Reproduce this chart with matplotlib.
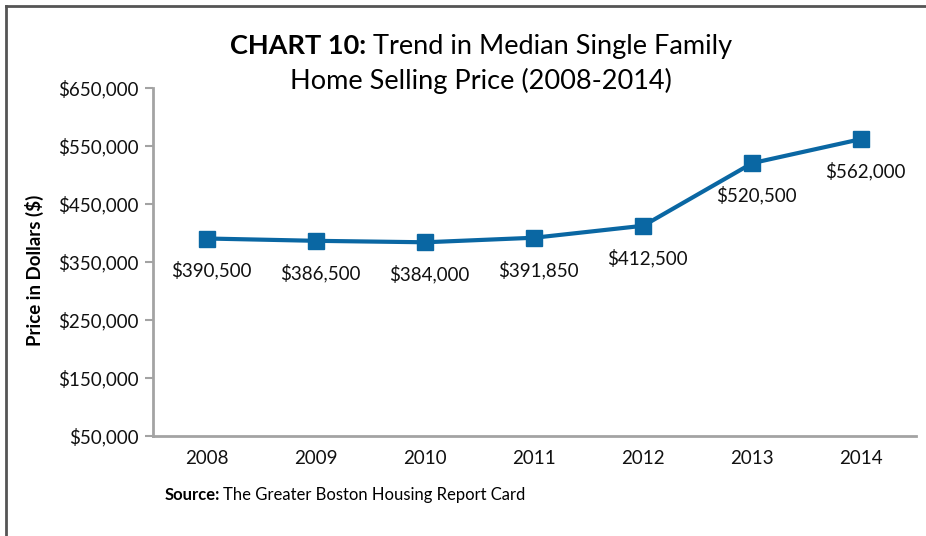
import matplotlib
matplotlib.use("Agg")
import matplotlib.pyplot as plt
from matplotlib.lines import Line2D

years  = ["2008", "2009", "2010", "2011", "2012", "2013", "2014"]
prices = [390500, 386500, 384000, 391850, 412500, 520500, 562000]
labels = ["$390,500", "$386,500", "$384,000", "$391,850", "$412,500", "$520,500", "$562,000"]
yticks = [50000, 150000, 250000, 350000, 450000, 550000, 650000]

FONT  = "Lato"
BLUE  = "#0a67a3"
GRAY  = "#a3a3a3"

plt.rcParams["font.family"] = [FONT, "DejaVu Sans"]

fig = plt.figure(figsize=(9.26, 5.36), dpi=100)
ax = fig.add_axes([0.165, 0.1866, 0.824, 0.6492])
W, H = fig.bbox.width, fig.bbox.height

x = list(range(len(years)))
ax.plot(x, prices, color=BLUE, linewidth=3, marker="s", markersize=11,
        markerfacecolor=BLUE, markeredgecolor=BLUE, zorder=3)

for xi, yi, lab in zip(x, prices, labels):
    ax.annotate(lab, (xi, yi), xytext=(3, -23), textcoords="offset points",
                ha="center", va="center", fontsize=13.5, color="#111111")

ax.set_xlim(-0.5, len(years) - 0.5)
ax.set_ylim(50000, 650000)
ax.set_xticks(x)
ax.set_xticklabels(years, fontsize=13.5, color="#111111")
ax.set_yticks(yticks)
ax.set_yticklabels(["${:,}".format(v) for v in yticks], fontsize=13.5, color="#111111")
ax.tick_params(axis="x", length=0, pad=10)
ax.tick_params(axis="y", length=6, width=1.5, color=GRAY, pad=4)

for s in ["top", "right"]:
    ax.spines[s].set_visible(False)
for s in ["left", "bottom"]:
    ax.spines[s].set_color(GRAY)
    ax.spines[s].set_linewidth(2)

ax.set_ylabel("Price in Dollars ($)", fontsize=13.5, fontweight="bold")
ax.yaxis.set_label_coords(-0.1426, 0.477)

# title, bold lead-in followed by regular text
t1 = fig.text(0.0, 0.0, "CHART 10:", fontsize=19.5, fontweight="bold")
t2 = fig.text(0.0, 0.0, " Trend in Median Single Family", fontsize=19.5)
fig.canvas.draw()
r = fig.canvas.get_renderer()
w1 = t1.get_window_extent(r).width
w2 = t2.get_window_extent(r).width
x0 = 481 - (w1 + w2) / 2
t1.set_position((x0 / W, 1 - 54 / H))
t2.set_position(((x0 + w1) / W, 1 - 54 / H))
fig.text(481 / W, 1 - 89 / H, "Home Selling Price (2008-2014)", fontsize=19.5, ha="center")

s1 = fig.text(165 / W, 1 - 500 / H, "Source:", fontsize=12, fontweight="bold")
fig.canvas.draw()
ws = s1.get_window_extent(r).width
fig.text((165 + ws + 3) / W, 1 - 500 / H, "The Greater Boston Housing Report Card", fontsize=12)

# outer frame (left and top edges)
fig.add_artist(Line2D([6 / W, 6 / W], [0, 1 - 6 / H], color="#555555", linewidth=2,
                      transform=fig.transFigure))
fig.add_artist(Line2D([6 / W, 1], [1 - 6 / H, 1 - 6 / H], color="#555555", linewidth=2,
                      transform=fig.transFigure))

fig.savefig("out.png", dpi=100)
